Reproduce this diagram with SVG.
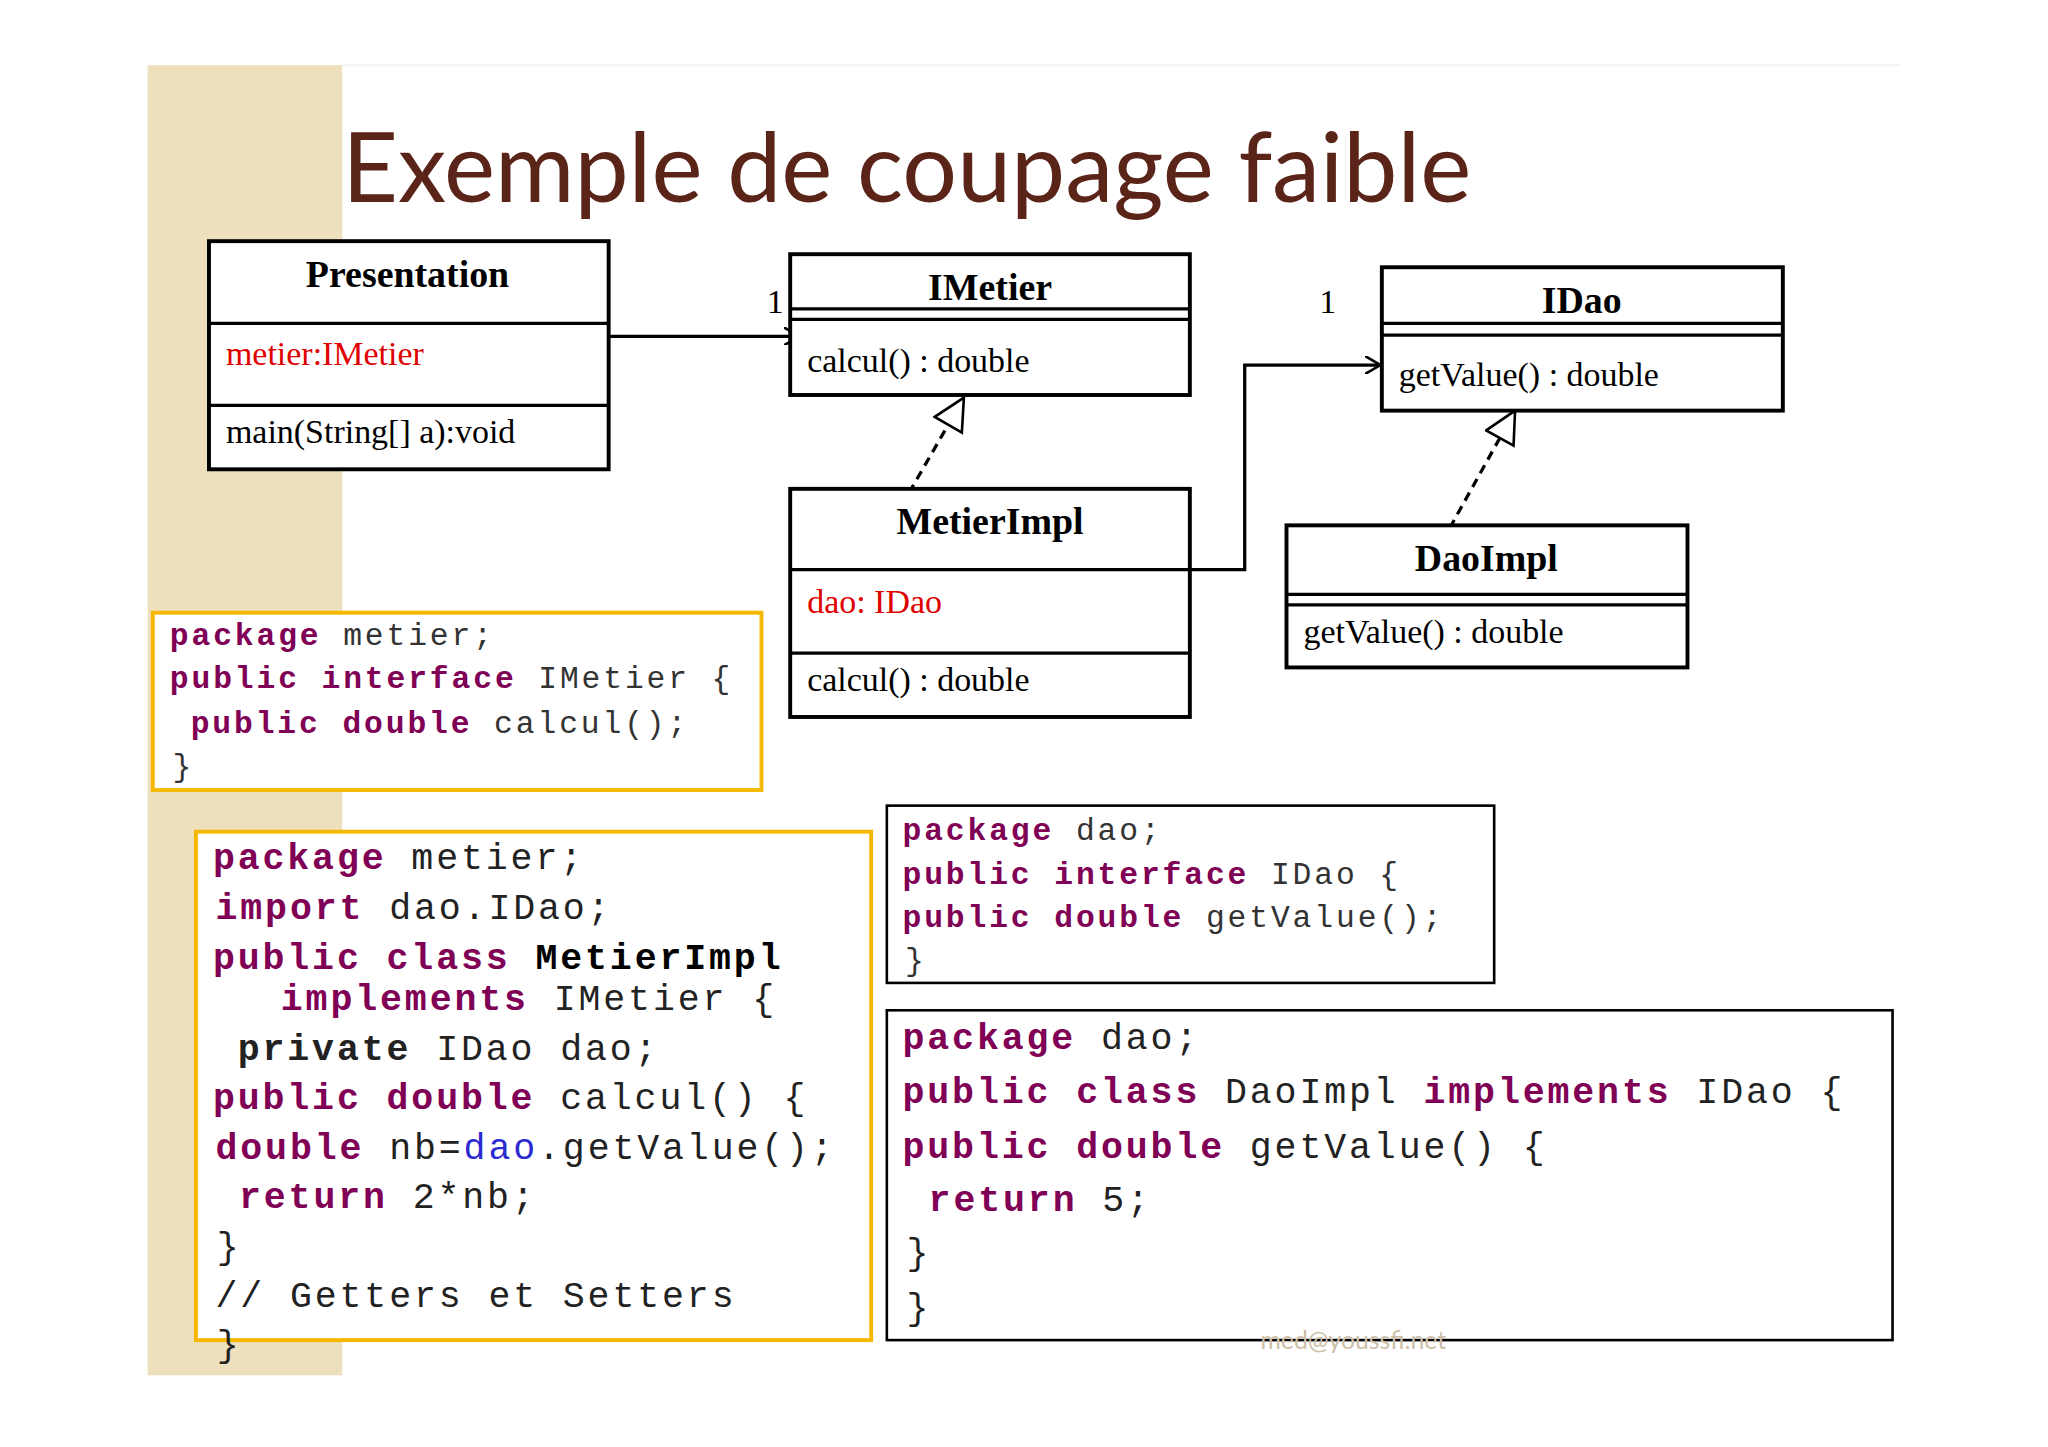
<svg xmlns="http://www.w3.org/2000/svg" width="2048" height="1447" viewBox="0 0 2048 1447">
<style>
.box{fill:#fff;stroke:#000;stroke-width:3}
.ln{stroke:#000;stroke-width:2.5;fill:none}
.t{font-family:"Liberation Serif",serif;font-size:26px;fill:#000}
.h{font-family:"Liberation Serif",serif;font-size:29px;font-weight:bold;fill:#000;text-anchor:middle}
.r{fill:#e00000}
.c1{font-family:"Liberation Mono",monospace;font-size:24px;letter-spacing:2.2px;fill:#333}
.c2{font-family:"Liberation Mono",monospace;font-size:28px;letter-spacing:2.2px;fill:#222}
.k{fill:#7f0055;font-weight:bold}
.code{fill:#fff;stroke:#f5b800;stroke-width:3}
.codeb{fill:#fff;stroke:#000;stroke-width:2}
</style>
<defs>
<marker id="arr" markerWidth="14" markerHeight="14" refX="12" refY="7" orient="auto" markerUnits="userSpaceOnUse"><path d="M0,0 L12,7 L0,14" fill="none" stroke="#000" stroke-width="2"/></marker>
<marker id="tri" markerWidth="30" markerHeight="30" refX="26" refY="13" orient="auto" markerUnits="userSpaceOnUse"><path d="M2,1 L26,13 L2,25 Z" fill="#fff" stroke="#000" stroke-width="2"/></marker>
</defs>
<rect width="2048" height="1447" fill="#fff"/>
<g transform="scale(1.3061,1.3036)">
<rect x="113" y="50" width="149" height="1005" fill="#eee0bc"/>
<line x1="262" y1="50" x2="1455" y2="50" stroke="#eee" stroke-width="1"/>
<text x="262" y="155" font-family="Lato,sans-serif" font-size="74" fill="#5a2418">Exemple de coupage  faible</text>
<g id="connectors">
<line class="ln" x1="466" y1="258" x2="612" y2="258" marker-end="url(#arr)"/>
<polyline class="ln" points="911,437 953,437 953,280 1057,280" marker-end="url(#arr)"/>
<line class="ln" x1="696" y1="378" x2="738" y2="305" stroke-dasharray="7,5" stroke-width="1.8" marker-end="url(#tri)"/>
<line class="ln" x1="1110" y1="405" x2="1160" y2="315" stroke-dasharray="7,5" stroke-width="1.8" marker-end="url(#tri)"/>
<text class="t" x="587" y="240" font-size="28">1</text>
<text class="t" x="1010" y="240" font-size="28">1</text>
</g>
<g id="Presentation">
<rect class="box" x="160" y="185" width="306" height="175"/>
<line class="ln" x1="160" y1="248" x2="466" y2="248"/>
<line class="ln" x1="160" y1="311" x2="466" y2="311"/>
<text class="h" x="312" y="220">Presentation</text>
<text class="t r" x="173" y="280">metier:IMetier</text>
<text class="t" x="173" y="340">main(String[] a):void</text>
</g>
<g id="IMetier">
<rect class="box" x="605" y="195" width="306" height="108"/>
<line class="ln" x1="605" y1="237" x2="911" y2="237"/>
<line class="ln" x1="605" y1="245" x2="911" y2="245"/>
<text class="h" x="758" y="230">IMetier</text>
<text class="t" x="618" y="285">calcul() : double</text>
</g>
<g id="MetierImpl">
<rect class="box" x="605" y="375" width="306" height="175"/>
<line class="ln" x1="605" y1="437" x2="911" y2="437"/>
<line class="ln" x1="605" y1="501" x2="911" y2="501"/>
<text class="h" x="758" y="410">MetierImpl</text>
<text class="t r" x="618" y="470">dao: IDao</text>
<text class="t" x="618" y="530">calcul() : double</text>
</g>
<g id="IDao">
<rect class="box" x="1058" y="205" width="307" height="110"/>
<line class="ln" x1="1058" y1="248" x2="1365" y2="248"/>
<line class="ln" x1="1058" y1="257" x2="1365" y2="257"/>
<text class="h" x="1211" y="240">IDao</text>
<text class="t" x="1071" y="296">getValue() : double</text>
</g>
<g id="DaoImpl">
<rect class="box" x="985" y="403" width="307" height="109"/>
<line class="ln" x1="985" y1="456" x2="1292" y2="456"/>
<line class="ln" x1="985" y1="464" x2="1292" y2="464"/>
<text class="h" x="1138" y="438">DaoImpl</text>
<text class="t" x="998" y="493">getValue() : double</text>
</g>
<g id="code1">
<rect class="code" x="117" y="470" width="466" height="136"/>
<text class="c1" x="130" y="495"><tspan class="k">package</tspan> metier;</text>
<text class="c1" x="130" y="528"><tspan class="k">public interface</tspan> IMetier {</text>
<text class="c1" x="146" y="562"><tspan class="k">public double</tspan> calcul();</text>
<text class="c1" x="132" y="595">}</text>
</g>
<g id="code2">
<rect class="code" x="150" y="638" width="517" height="390"/>
<text class="c2" x="163" y="667"><tspan class="k">package</tspan> metier;</text>
<text class="c2" x="165" y="705"><tspan class="k">import</tspan> dao.IDao;</text>
<text class="c2" x="163" y="743"><tspan class="k">public class</tspan> <tspan font-weight="bold" fill="#000">MetierImpl</tspan></text>
<text class="c2" x="215" y="775"><tspan class="k">implements</tspan> IMetier {</text>
<text class="c2" x="182" y="813" fill="#e00000"><tspan font-weight="bold">private</tspan> IDao dao;</text>
<text class="c2" x="163" y="851"><tspan class="k">public double</tspan> calcul() {</text>
<text class="c2" x="165" y="889"><tspan class="k">double</tspan> nb=<tspan fill="#2a2ad0">dao</tspan>.getValue();</text>
<text class="c2" x="183" y="927"><tspan class="k">return</tspan> 2*nb;</text>
<text class="c2" x="166" y="965">}</text>
<text class="c2" x="165" y="1003" fill="#3f7f5f">// Getters et Setters</text>
<text class="c2" x="166" y="1040">}</text>
</g>
<g id="code3">
<rect class="codeb" x="679" y="618" width="465" height="136"/>
<text class="c1" x="691" y="644"><tspan class="k">package</tspan> dao;</text>
<text class="c1" x="691" y="678"><tspan class="k">public interface</tspan> IDao {</text>
<text class="c1" x="691" y="711"><tspan class="k">public double</tspan> getValue();</text>
<text class="c1" x="693" y="744">}</text>
</g>
<g id="code4">
<rect class="codeb" x="679" y="775" width="770" height="253"/>
<text class="c2" x="691" y="805"><tspan class="k">package</tspan> dao;</text>
<text class="c2" x="691" y="846"><tspan class="k">public class</tspan> DaoImpl <tspan class="k">implements</tspan> IDao {</text>
<text class="c2" x="691" y="888"><tspan class="k">public double</tspan> getValue() {</text>
<text class="c2" x="711" y="929"><tspan class="k">return</tspan> 5;</text>
<text class="c2" x="694" y="970">}</text>
<text class="c2" x="694" y="1012">}</text>
</g>
<text x="965" y="1035" font-family="Lato,sans-serif" font-size="19" fill="#cdbfa8">med@youssfi.net</text>
</g>
</svg>
